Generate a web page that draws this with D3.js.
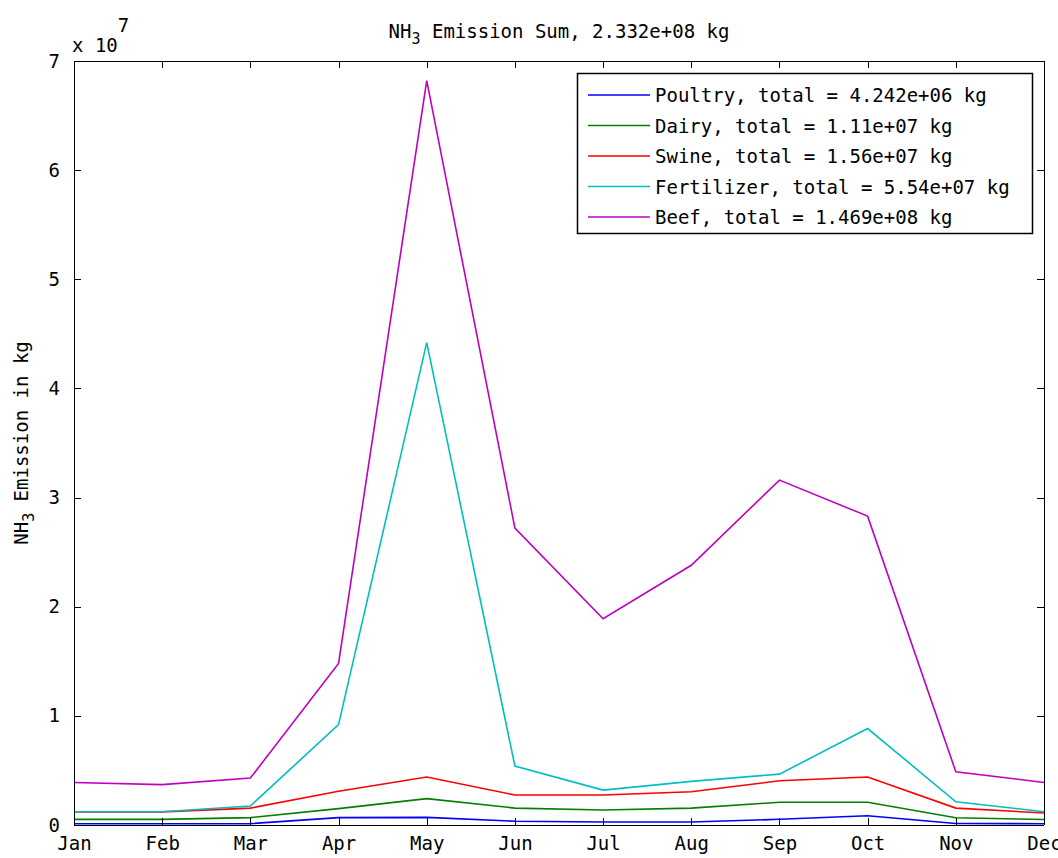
<!DOCTYPE html>
<html lang="en">
<head>
    <meta charset="UTF-8">
    <title>NH3 Emission Sum</title>
    <script src="https://d3js.org/d3.v7.min.js"></script>
</head>

<style>
    body { margin: 0; background: #fff; }
    text {
        font-family: "DejaVu Sans Mono", monospace;
        font-size: 19px;
        fill: #000;
    }
    .axis line, .axis path { stroke: #000; shape-rendering: crispEdges; }
    .series { fill: none; stroke-width: 1.6px; }
</style>

<body>
<svg width="1058" height="858"></svg>

<script>
    var months = ["Jan", "Feb", "Mar", "Apr", "May", "Jun", "Jul", "Aug", "Sep", "Oct", "Nov", "Dec"];
    var yTicks = [0, 1, 2, 3, 4, 5, 6, 7];

    // curves as drawn (each one includes the ones below it), kg
    var poultry    = [1.2e5, 1.2e5, 1.3e5, 6.8e5, 7.0e5, 3.5e5, 2.8e5, 2.8e5, 5.2e5, 8.5e5, 1.4e5, 1.2e5];
    var dairy      = [5.2e5, 5.2e5, 6.8e5, 1.5e6, 2.42e6, 1.55e6, 1.38e6, 1.55e6, 2.08e6, 2.08e6, 6.6e5, 5.0e5];
    var swine      = [1.2e6, 1.2e6, 1.55e6, 3.1e6, 4.4e6, 2.75e6, 2.75e6, 3.05e6, 4.05e6, 4.4e6, 1.55e6, 1.1e6];
    var fertilizer = [1.22e6, 1.22e6, 1.74e6, 9.2e6, 4.42e7, 5.4e6, 3.2e6, 4.0e6, 4.66e6, 8.84e6, 2.13e6, 1.22e6];
    var beef       = [3.9e6, 3.7e6, 4.3e6, 1.48e7, 6.82e7, 2.72e7, 1.89e7, 2.38e7, 3.16e7, 2.83e7, 4.88e6, 3.9e6];

    var legendLabels = [
        "Poultry, total = 4.242e+06 kg",
        "Dairy, total = 1.11e+07 kg",
        "Swine, total = 1.56e+07 kg",
        "Fertilizer, total = 5.54e+07 kg",
        "Beef, total = 1.469e+08 kg"
    ];
    var colors = ["#0000ff", "#008000", "#ff0000", "#00bfbf", "#bf00bf"];
    var seriesList = [poultry, dairy, swine, fertilizer, beef];

    var svg = d3.select("svg");
    var plotLeft = 74, plotRight = 1044, plotTop = 61, plotBottom = 825;

    var x = d3.scalePoint().domain(months).range([plotLeft, plotRight]);
    var y = d3.scaleLinear().domain([0, 7e7]).range([plotBottom, plotTop]);

    // series lines
    var line = d3.line()
        .x(function(d, i) { return x(months[i]); })
        .y(function(d) { return y(d); });

    svg.append("g")
        .selectAll("path")
        .data(seriesList)
        .enter().append("path")
        .attr("class", "series")
        .attr("stroke", function(d, i) { return colors[i]; })
        .attr("d", line);

    // axes on all four sides, ticks pointing inward
    var tickFmt = function(d) { return d / 1e7; };
    var yVals = yTicks.map(function(d) { return d * 1e7; });

    svg.append("g").attr("class", "axis")
        .attr("transform", "translate(0," + plotBottom + ")")
        .call(d3.axisBottom(x).tickSizeInner(-7).tickSizeOuter(0).tickPadding(12))
        .call(function(g) { g.select(".domain").attr("d", "M" + plotLeft + ",0.5H" + plotRight); });

    svg.append("g").attr("class", "axis")
        .attr("transform", "translate(0," + plotTop + ")")
        .call(d3.axisTop(x).tickSizeInner(-7).tickSizeOuter(0).tickFormat(""))
        .call(function(g) { g.select(".domain").attr("d", "M" + plotLeft + ",0.5H" + plotRight); });

    svg.append("g").attr("class", "axis")
        .attr("transform", "translate(" + plotLeft + ",0)")
        .call(d3.axisLeft(y).tickValues(yVals).tickFormat(tickFmt).tickSizeInner(-7).tickSizeOuter(0).tickPadding(14))
        .call(function(g) { g.select(".domain").attr("d", "M0.5," + plotTop + "V" + plotBottom); });

    svg.append("g").attr("class", "axis")
        .attr("transform", "translate(" + plotRight + ",0)")
        .call(d3.axisRight(y).tickValues(yVals).tickFormat("").tickSizeInner(-7).tickSizeOuter(0))
        .call(function(g) { g.select(".domain").attr("d", "M0.5," + plotTop + "V" + plotBottom); });

    svg.selectAll(".axis text").style("font-size", "19px").style("font-family", "DejaVu Sans Mono, monospace");

    // exponent label
    var expo = svg.append("text").attr("x", 72).attr("y", 52);
    expo.append("tspan").text("x 10");
    expo.append("tspan").attr("dy", -20).text("7");

    // title
    var title = svg.append("text")
        .attr("x", (plotLeft + plotRight) / 2)
        .attr("y", 38)
        .attr("text-anchor", "middle");
    title.append("tspan").text("NH");
    title.append("tspan").attr("dy", 6).style("font-size", "15px").text("3");
    title.append("tspan").attr("dy", -6).text(" Emission Sum, 2.332e+08 kg");

    // y label
    var ylab = svg.append("text")
        .attr("transform", "translate(28," + ((plotTop + plotBottom) / 2) + ") rotate(-90)")
        .attr("text-anchor", "middle");
    ylab.append("tspan").text("NH");
    ylab.append("tspan").attr("dy", 6).style("font-size", "15px").text("3");
    ylab.append("tspan").attr("dy", -6).text(" Emission in kg");

    // legend
    var lg = svg.append("g").attr("transform", "translate(577,73)");
    lg.append("rect")
        .attr("x", 0.5).attr("y", 0.5)
        .attr("width", 455).attr("height", 160)
        .attr("fill", "#fff").attr("stroke", "#000").attr("stroke-width", 1.5);

    var item = lg.selectAll(".item")
        .data(legendLabels)
        .enter().append("g")
        .attr("transform", function(d, i) { return "translate(0," + (22 + i * 30.5) + ")"; });

    item.append("line")
        .attr("x1", 11).attr("x2", 73)
        .attr("stroke", function(d, i) { return colors[i]; })
        .attr("stroke-width", 1.6);

    item.append("text")
        .attr("x", 78).attr("y", 7)
        .text(function(d) { return d; });
</script>
</body>
</html>
